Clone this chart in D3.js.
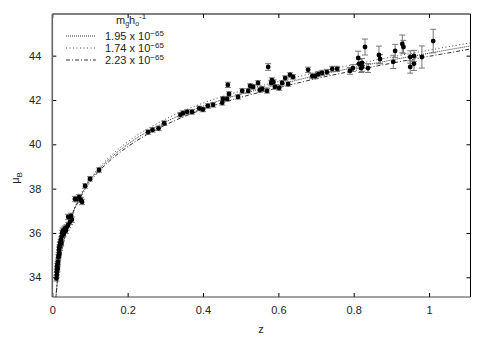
<!DOCTYPE html>
<html><head><meta charset="utf-8">
<script src="https://cdn.jsdelivr.net/npm/d3@7"></script>
<style>
html,body{margin:0;padding:0;background:#fff;}
svg text{font-family:"Liberation Sans",Arial,Helvetica,sans-serif;}
</style></head>
<body>
<svg id="c" width="491" height="344"></svg>
<script>
// ---- data ----
const xTicks = [0, 0.2, 0.4, 0.6, 0.8, 1];
const yTicks = [34, 36, 38, 40, 42, 44];
const xTickLabels = ["0", "0.2", "0.4", "0.6", "0.8", "1"];
const yTickLabels = ["34", "36", "38", "40", "42", "44"];

const curveZ    = [0.009,0.01,0.015,0.02,0.03,0.04,0.05,0.07,0.1,0.15,0.2,0.3,0.4,0.5,0.6,0.7,0.8,0.9,1.0,1.11];
const curve195  = [32.94,33.17,34.06,34.69,35.59,36.23,36.73,37.50,38.36,39.31,40.00,41.00,41.72,42.26,42.69,43.10,43.46,43.80,44.11,44.44];
const curve174  = [32.97,33.20,34.09,34.72,35.62,36.26,36.76,37.55,38.43,39.40,40.11,41.13,41.86,42.40,42.83,43.24,43.60,43.94,44.25,44.58];
const curve223  = [32.91,33.14,34.03,34.66,35.56,36.20,36.70,37.45,38.29,39.22,39.89,40.87,41.58,42.12,42.55,42.96,43.32,43.66,43.97,44.30];
const seriesNames = ["1.95", "1.74", "2.23"];

const dataZ = [0.011,0.012,0.012,0.013,0.013,0.014,0.014,0.015,
  0.016,0.017,0.018,0.018,0.019,0.020,0.021,0.022,0.023,0.024,0.025,
  0.026,0.028,0.030,0.032,0.034,0.036,0.038,
  0.042,0.047,0.042,0.050,0.052,
  0.060,0.066,0.071,0.076,0.079,
  0.087,0.100,0.124,
  0.254,0.266,0.282,0.297,
  0.340,0.347,0.358,0.371,0.390,0.400,
  0.413,0.427,0.451,0.453,0.464,0.469,0.466,0.493,0.504,0.520,0.525,0.533,0.546,0.551,0.557,0.570,
  0.581,0.583,0.587,0.591,0.602,0.610,0.626,0.618,0.631,0.639,0.573,
  0.679,0.690,0.698,0.706,0.716,0.729,0.743,0.756,0.790,0.798,
  0.812,0.814,0.820,0.830,0.822,0.822,0.838,0.867,0.870,0.905,0.910,0.929,0.932,0.950,0.950,0.960,0.960,0.981,1.011];
const dataMu = [33.95,34.10,34.25,34.35,34.50,34.60,34.40,34.70,
  34.90,35.00,35.10,35.25,35.35,35.45,35.50,35.60,35.70,35.55,35.85,
  36.00,36.10,35.95,36.15,36.20,36.10,36.25,
  36.36,36.50,36.72,36.77,36.60,
  37.53,37.53,37.62,37.49,37.40,
  38.12,38.44,38.84,
  40.55,40.65,40.72,40.95,
  41.33,41.41,41.46,41.46,41.62,41.57,
  41.73,41.78,41.87,42.05,42.05,42.27,42.68,42.14,42.41,42.41,42.63,42.59,42.77,42.45,42.50,42.41,
  42.77,42.90,42.81,42.59,42.54,42.77,42.72,42.99,43.13,43.04,43.49,
  43.36,43.08,43.08,43.17,43.22,43.26,43.40,43.40,43.31,43.44,
  43.90,43.63,43.44,44.39,43.67,43.49,43.44,44.03,43.85,43.72,44.21,44.53,44.39,43.94,43.49,43.99,43.63,43.94,44.66];
const dataErr = [0.12,0.12,0.12,0.12,0.12,0.12,0.12,0.12,
  0.12,0.12,0.12,0.12,0.12,0.12,0.12,0.12,0.12,0.12,0.12,
  0.12,0.12,0.12,0.12,0.12,0.12,0.12,
  0.12,0.12,0.12,0.12,0.12,
  0.12,0.12,0.12,0.12,0.12,
  0.1,0.1,0.1,
  0.1,0.1,0.1,0.1,
  0.1,0.1,0.1,0.1,0.1,0.1,
  0.1,0.1,0.1,0.1,0.1,0.1,0.12,0.1,0.1,0.1,0.1,0.1,0.1,0.1,0.1,0.1,
  0.1,0.1,0.1,0.1,0.1,0.1,0.1,0.1,0.1,0.1,0.15,
  0.12,0.12,0.12,0.12,0.12,0.12,0.12,0.12,0.15,0.15,
  0.3,0.2,0.2,0.36,0.2,0.2,0.2,0.4,0.2,0.3,0.3,0.4,0.3,0.28,0.28,0.25,0.3,0.5,0.53];

// ---- layout ----
const svg = d3.select("#c");
const L = 52.3, R = 470.5, T = 14, B = 297;
const x = d3.scaleLinear().domain([0, 1.11]).range([L, R]);
const y = d3.scaleLinear().domain([33.11, 45.88]).range([B, T]);

svg.append("defs").append("clipPath").attr("id","clip")
  .append("rect").attr("x",L).attr("y",T).attr("width",R-L).attr("height",B-T);

// axes (ticks inward, mirrored)
const tk = 4;
const gB = svg.append("g").attr("transform",`translate(0,${B})`)
  .call(d3.axisBottom(x).tickValues(xTicks).tickSize(-tk).tickPadding(9)
    .tickFormat((d,i)=>xTickLabels[i]));
const gT = svg.append("g").attr("transform",`translate(0,${T})`)
  .call(d3.axisTop(x).tickValues(xTicks).tickSize(-tk).tickFormat(""));
const gL = svg.append("g").attr("transform",`translate(${L},0)`)
  .call(d3.axisLeft(y).tickValues(yTicks).tickSize(-tk).tickPadding(11)
    .tickFormat((d,i)=>yTickLabels[i]));
const gR = svg.append("g").attr("transform",`translate(${R},0)`)
  .call(d3.axisRight(y).tickValues(yTicks).tickSize(-tk).tickFormat(""));
[gB,gT,gL,gR].forEach(g=>{
  g.select(".domain").remove();
  g.selectAll(".tick line").attr("stroke","#000").attr("stroke-width",1);
  g.selectAll(".tick text").attr("font-size","11px").attr("fill","#222")
   .attr("font-family","'Liberation Sans',Arial,sans-serif");
});
// frame
svg.append("line").attr("x1",L).attr("x2",R).attr("y1",T).attr("y2",T).attr("stroke","#000");
svg.append("line").attr("x1",R).attr("x2",R).attr("y1",T).attr("y2",B).attr("stroke","#000");
svg.append("line").attr("x1",L).attr("x2",L).attr("y1",T).attr("y2",B).attr("stroke","#666").attr("stroke-width",1.6);
svg.append("line").attr("x1",L).attr("x2",R).attr("y1",B).attr("y2",B).attr("stroke","#444").attr("stroke-width",1.2);

// axis titles
svg.append("text").attr("x",261).attr("y",333).attr("text-anchor","middle")
  .attr("font-size","11px").attr("fill","#222").text("z");
const yt = svg.append("text").attr("transform","translate(19,178) rotate(-90)")
  .attr("text-anchor","middle").attr("font-size","11px").attr("fill","#222");
yt.append("tspan").text("μ");
yt.append("tspan").attr("font-size","8px").attr("dy","3").text("B");

// curves
const styles = [
  {data: curve195, dash: "1,1", color:"#333"},
  {data: curve174, dash: "1,2.5", color:"#444"},
  {data: curve223, dash: "4,2,1,2", color:"#333"}
];
const line = d3.line().x(d=>x(d[0])).y(d=>y(d[1])).curve(d3.curveMonotoneX);
const plot = svg.append("g").attr("clip-path","url(#clip)");
styles.forEach(s=>{
  plot.append("path").datum(curveZ.map((z,i)=>[z,s.data[i]]))
    .attr("d",line).attr("fill","none").attr("stroke",s.color)
    .attr("stroke-width",1).attr("stroke-dasharray",s.dash);
});

// data points with error bars
const pts = dataZ.map((z,i)=>({z, mu:dataMu[i], e:dataErr[i]}));
const eg = plot.append("g").attr("stroke","#777").attr("stroke-width",1);
pts.forEach(p=>{
  const cx = x(p.z), y1 = y(p.mu+p.e), y2 = y(p.mu-p.e);
  eg.append("line").attr("x1",cx).attr("x2",cx).attr("y1",y1).attr("y2",y2);
  eg.append("line").attr("x1",cx-3).attr("x2",cx+3).attr("y1",y1).attr("y2",y1);
  eg.append("line").attr("x1",cx-3).attr("x2",cx+3).attr("y1",y2).attr("y2",y2);
});
plot.append("g").selectAll("circle").data(pts).join("circle")
  .attr("cx",d=>x(d.z)).attr("cy",d=>y(d.mu)).attr("r",2.4).attr("fill","#000");

// legend
const lg = svg.append("g");
const title = lg.append("text").attr("x",116).attr("y",24).attr("font-size","11px").attr("fill","#222");
title.append("tspan").text("m");
title.append("tspan").attr("font-size","7px").attr("dy","2").text("g");
title.append("tspan").attr("dy","-2").text("h");
title.append("tspan").attr("font-size","7px").attr("dy","2").text("o");
title.append("tspan").attr("font-size","8px").attr("dy","-7").text("-1");
const order = [0,1,2];
order.forEach((k,i)=>{
  const ly = 36 + i*12;
  lg.append("line").attr("x1",66).attr("x2",96).attr("y1",ly).attr("y2",ly)
    .attr("stroke",styles[k].color).attr("stroke-dasharray",styles[k].dash);
  const t = lg.append("text").attr("x",105).attr("y",ly+4).attr("font-size","11px").attr("fill","#222");
  t.append("tspan").text(seriesNames[k] + " x 10");
  t.append("tspan").attr("font-size","8px").attr("dy","-4").text("−65");
});
</script>
</body></html>
